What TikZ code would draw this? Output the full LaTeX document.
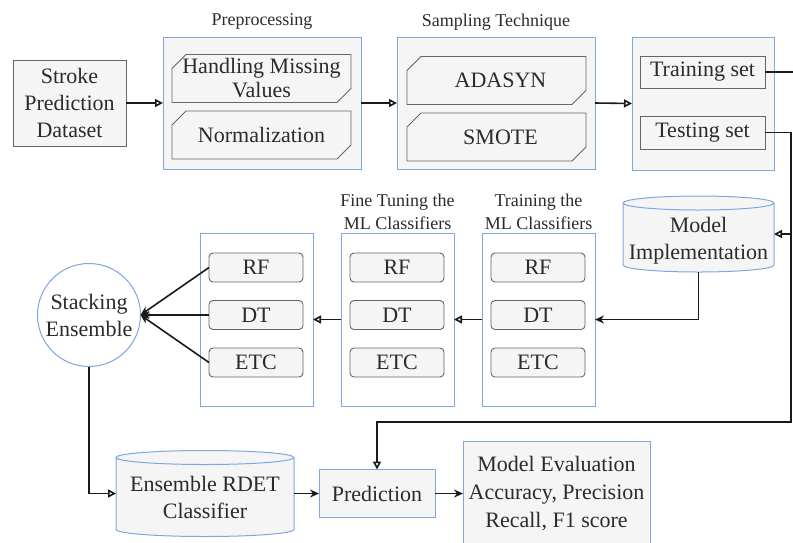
\documentclass[tikz,border=0pt]{standalone}
\usepackage{fontspec}
\setmainfont{Liberation Serif}
\newfontfamily\diagramfont{Liberation Serif}
\usetikzlibrary{arrows.meta,backgrounds}
\definecolor{blueline}{HTML}{7EA6E0}
\definecolor{boxfill}{HTML}{F5F5F5}
\definecolor{grayline}{HTML}{666666}
\definecolor{ink}{HTML}{1A1A1A}
\definecolor{txt}{HTML}{2B2B2B}

% cylinder outline behind a node: #1 node name, #2 half width, #3 half height of the end ellipses
\newcommand\drumoutline[3]{%
  \begin{scope}[on background layer]
    \filldraw[fill=boxfill,draw=blueline,line width=1pt]
      ([yshift=-#3]#1.north west) -- ([yshift=#3]#1.south west)
      arc[start angle=180,end angle=360,x radius=#2,y radius=#3]
      -- ([yshift=-#3]#1.north east)
      arc[start angle=0,end angle=180,x radius=#2,y radius=#3] -- cycle;
    \draw[blueline,line width=1pt] ([yshift=-#3]#1.north west)
      arc[start angle=180,end angle=360,x radius=#2,y radius=#3];
  \end{scope}}
% two-line label lowered inside a cylinder body, keeping its natural size
\newcommand\drumtext[3]{\raisebox{-#1}[\height][\depth]{\begin{tabular}{@{}c@{}}#2\\#3\end{tabular}}}

\begin{document}
\begin{tikzpicture}[x=1pt,y=-1pt,
  every node/.style={inner sep=0pt,outer sep=0pt,text=txt,align=center,
    font=\diagramfont\fontsize{22}{27}\selectfont},
  heading/.style={font=\diagramfont\fontsize{18}{23}\selectfont},
  group/.style={draw=blueline,line width=1pt,fill=boxfill},
  panel/.style={draw=blueline,line width=1pt,fill=white},
  item/.style={draw=grayline,line width=0.9pt,fill=boxfill},
  algo/.style={item,rounded corners=4pt,minimum width=94pt,minimum height=29pt},
  % card with the top-left and bottom-right corners cut off
  card/.style={minimum width=181pt,minimum height=50pt,
    path picture={\filldraw[fill=boxfill,draw=grayline,line width=0.9pt]
      ([xshift=1pt,yshift=-15pt]path picture bounding box.north west)
      -- ([xshift=15pt,yshift=-1pt]path picture bounding box.north west)
      -- ([xshift=-1pt,yshift=-1pt]path picture bounding box.north east)
      -- ([xshift=-1pt,yshift=15pt]path picture bounding box.south east)
      -- ([xshift=-15pt,yshift=1pt]path picture bounding box.south east)
      -- ([xshift=1pt,yshift=1pt]path picture bounding box.south west) -- cycle;}},
  link/.style={draw=ink,line width=1.6pt},
  openhead/.style={link,-{Triangle[open,length=8pt,width=8pt,line width=1.6pt]}},
  solidhead/.style={link,-{Stealth[length=9pt,width=8pt]}},
]
\useasboundingbox (0,0) rectangle (793,542);

% ---- top row: data preparation ----
\node[item,minimum width=113pt,minimum height=86pt] (data) at (69.5,103)
  {Stroke\\Prediction\\Dataset};

\node[group,minimum width=198pt,minimum height=132pt] (prep) at (262,103) {};
\node[heading] (prephead) at (262,21) {Preprocessing};
\node[card,font=\diagramfont\fontsize{22}{24}\selectfont] (missing) at (261.5,78.5) {Handling Missing\\Values};
\node[card] (norm) at (261.5,135) {Normalization};

\node[group,minimum width=198pt,minimum height=132pt] (samp) at (496,103) {};
\node[heading] (samphead) at (496,22) {Sampling Technique};
\node[card] (adasyn) at (496.5,80.5) {\hspace*{8pt}ADASYN};
\node[card] (smote) at (496.5,137) {\hspace*{8pt}SMOTE};

\node[group,minimum width=142pt,minimum height=133pt] (split) at (703,103.5) {};
\node[item,minimum width=125pt,minimum height=32pt] (trainset) at (702.5,72) {Training set};
\node[item,minimum width=125pt,minimum height=33pt] (testset) at (702.5,132.5) {Testing set};

% ---- middle row: classifiers ----
\node[minimum width=151pt,minimum height=76pt] (impl) at (698.5,234)
  {\drumtext{7pt}{Model}{Implementation}};
\drumoutline{impl}{75.5pt}{7pt}

\node[panel,minimum width=113pt,minimum height=173pt] (train) at (538.5,319.5) {};
\node[heading] (trainhead) at (538.5,211.5) {Training the\\ML Classifiers};
\node[algo] (trainrf) at (538,267.5) {RF};
\node[algo] (traindt) at (538,315) {DT};
\node[algo] (trainetc) at (538,362.5) {ETC};

\node[panel,minimum width=113pt,minimum height=173pt] (fine) at (397.5,319.5) {};
\node[heading] (finehead) at (397.5,211.5) {Fine Tuning the\\ML Classifiers};
\node[algo] (finerf) at (397,267.5) {RF};
\node[algo] (finedt) at (397,315) {DT};
\node[algo] (fineetc) at (397,362.5) {ETC};

\node[panel,minimum width=113pt,minimum height=173pt] (base) at (256.5,319.5) {};
\node[algo] (baserf) at (256,267.5) {RF};
\node[algo] (basedt) at (256,315) {DT};
\node[algo] (baseetc) at (256,362.5) {ETC};

\node[circle,draw=blueline,line width=1pt,fill=white,minimum size=103pt] (stack)
  at (89,315) {Stacking\\Ensemble};

% ---- bottom row: final model ----
\node[minimum width=178pt,minimum height=86pt] (ens) at (205,493.5)
  {\drumtext{6pt}{Ensemble RDET}{Classifier}};
\drumoutline{ens}{89pt}{7pt}

\node[group,minimum width=116pt,minimum height=48pt] (pred) at (377,493.5) {Prediction};
\node[group,minimum width=187pt,minimum height=105pt,font=\diagramfont\fontsize{22}{28}\selectfont] (eval)
  at (556.5,493.5) {Model Evaluation\\Accuracy, Precision\\Recall, F1 score};

% ---- connectors ----
\coordinate (edge) at (797,72);
\coordinate (turn) at (791,422);

\draw[openhead] (data.east) -- (prep.west);
\draw[openhead] (prep.east) -- (samp.west);
\draw[openhead] (samp.east) -- (split.west);
\draw[link] (trainset.east) -- (edge);
\draw[openhead] (testset.east) -| (turn) -| (pred.north);
\draw[openhead] (turn |- impl.east) -- (impl.east);
\draw[solidhead] (impl.south) |- (train.east);
\draw[openhead] (train.west) -- (fine.east);
\draw[openhead] (fine.west) -- (base.east);
\draw[solidhead] (baserf.west) -- (stack.east);
\draw[solidhead] (basedt.west) -- (stack.east);
\draw[solidhead] (baseetc.west) -- (stack.east);
\draw[openhead] (stack.south) |- (ens.west);
\draw[solidhead] (ens.east) -- (pred.west);
\draw[solidhead] (pred.east) -- (eval.west);
\end{tikzpicture}
\end{document}
